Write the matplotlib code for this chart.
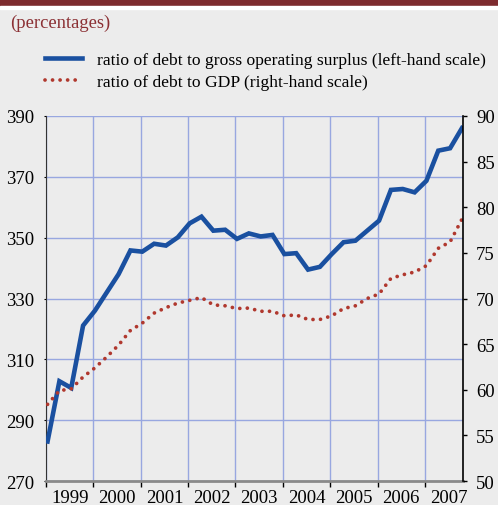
import matplotlib
matplotlib.use('Agg')
import matplotlib.pyplot as plt
from matplotlib.patches import Rectangle
import numpy as np

# quarterly data, 1999 Q1 - 2007 Q4
years = ['1999', '2000', '2001', '2002', '2003', '2004', '2005', '2006', '2007']
debt_gos = [283.0, 302.8, 300.6, 321.1, 326.0, 332.0, 338.0, 345.8, 345.4, 348.0,
            347.4, 350.1, 354.7, 356.9, 352.3, 352.6, 349.6, 351.4, 350.4, 350.9,
            344.6, 344.9, 339.5, 340.4, 344.6, 348.5, 349.0, 352.3, 355.6, 365.7,
            366.0, 364.9, 368.7, 378.6, 379.4, 386.0]
debt_gdp = [58.4, 59.9, 60.1, 61.4, 62.4, 63.6, 64.9, 66.5, 67.3, 68.4,
            69.0, 69.5, 69.8, 70.1, 69.3, 69.2, 68.9, 68.95, 68.6, 68.6,
            68.1, 68.2, 67.7, 67.7, 68.1, 68.9, 69.2, 70.0, 70.5, 72.2,
            72.6, 72.9, 73.6, 75.5, 76.2, 78.7]

bg = '#ececec'
blue = '#1a50a0'
red = '#b0382e'
grid_c = '#98a7e0'
plt.rcParams['font.family'] = ['Liberation Serif', 'DejaVu Serif']

fig = plt.figure(figsize=(4.98, 5.06), dpi=100, facecolor=bg)
ax = fig.add_axes([0.0924, 0.0474, 0.8383, 0.7214])
ax.set_facecolor(bg)
ax2 = ax.twinx()

q = np.arange(len(debt_gos))
l1, = ax.plot(q, debt_gos, color=blue, lw=3.3, solid_joinstyle='miter', zorder=3,
              label='ratio of debt to gross operating surplus (left-hand scale)')
l2, = ax2.plot(q, debt_gdp, color=red, lw=2.7, linestyle=(0, (0.01, 2.0)),
               dash_capstyle='round', label='ratio of debt to GDP (right-hand scale)')

off = -0.13
ax.set_xlim(off, 35.13)
ax.set_ylim(270, 390)
ax2.set_ylim(50, 90)
ax.set_yticks(np.arange(270, 391, 20))
ax2.set_yticks(np.arange(50, 91, 5))

bounds = [4 * k + off for k in range(9)]
ax.set_xticks(bounds)
ax.set_xticklabels([])
ax.set_xticks([4 * k + 2 + off for k in range(9)], minor=True)
ax.set_xticklabels(years, minor=True)
ax.tick_params(axis='x', which='major', direction='out', length=4, width=1, color='black')
ax.tick_params(axis='x', which='minor', length=0, pad=6, labelsize=13.5)
ax.tick_params(axis='y', length=1.5, pad=7, labelsize=13.5)
ax2.tick_params(axis='y', length=3, width=1, pad=6, labelsize=13.5)

ax.grid(True, which='major', color=grid_c, lw=1)
ax.set_axisbelow(True)
for s in ['top', 'right']:
    ax.spines[s].set_visible(False)
for s in ['top', 'left', 'bottom']:
    ax2.spines[s].set_visible(False)
ax.spines['left'].set_color('#333333')
ax.spines['left'].set_linewidth(0.8)
ax.spines['bottom'].set_color('#8a8a8a')
ax.spines['bottom'].set_linewidth(2)
ax2.spines['right'].set_color('black')
ax2.spines['right'].set_linewidth(1.2)

# header
fig.patches.append(Rectangle((0, 1 - 7.3 / 506), 1, 7.3 / 506, transform=fig.transFigure,
                             color='#7d2b2e', zorder=0))
fig.patches.append(Rectangle((0, 1 - 10 / 506), 1, 2.7 / 506, transform=fig.transFigure,
                             color='white', zorder=0))
fig.text(10 / 498, 1 - 23 / 506, '(percentages)', color='#8b3034', fontsize=13.4,
         va='center', ha='left')

fig.legend(handles=[l1, l2], loc='upper left', bbox_to_anchor=(45 / 498, 1 - 53 / 506),
           frameon=False, fontsize=12.6, handlelength=2.1, handletextpad=0.85,
           labelspacing=0.3, borderpad=0, borderaxespad=0)

fig.savefig('out.png', dpi=100, facecolor=bg)
